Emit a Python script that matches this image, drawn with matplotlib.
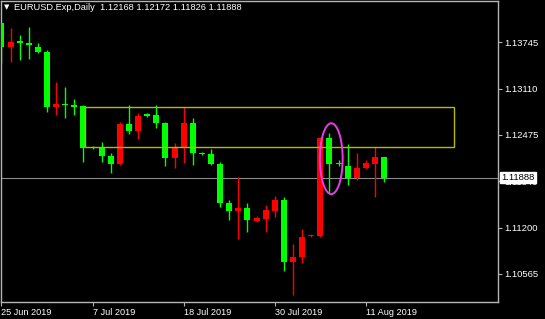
import matplotlib.pyplot as plt
import matplotlib.patches as patches
import numpy as np


plt.rcParams['font.family'] = ['Liberation Sans', 'DejaVu Sans']

# daily candles, EURUSD.Exp (green = bearish, red = bullish as on the terminal)
opens = [1.14006, 1.13676, 1.13759, 1.13731, 1.13676, 1.13608, 1.12853, 1.12894, 1.12881, 1.12867,
         1.12304, 1.12291, 1.12181, 1.12071, 1.12620, 1.12524, 1.12757, 1.12743, 1.12634, 1.12154,
         1.12304, 1.12634, 1.12222, 1.12208, 1.12071, 1.11536, 1.11426, 1.11467, 1.11289, 1.11317,
         1.11426, 1.11577, 1.10727, 1.10795, 1.11083, 1.11083, 1.12428, 1.12085, 1.12044, 1.11879,
         1.12016, 1.12071, 1.12168]
highs = [1.14020, 1.13937, 1.13841, 1.13951, 1.13731, 1.13635, 1.13196, 1.13128, 1.12963, 1.12880,
         1.12320, 1.12373, 1.12222, 1.12647, 1.12881, 1.12771, 1.12770, 1.12881, 1.12647, 1.12359,
         1.12853, 1.12702, 1.12235, 1.12277, 1.12099, 1.11577, 1.11893, 1.11536, 1.11358, 1.11509,
         1.11632, 1.11618, 1.10974, 1.11179, 1.11110, 1.12440, 1.12497, 1.12126, 1.12346, 1.12222,
         1.12126, 1.12304, 1.12172]
lows = [1.13457, 1.13471, 1.13498, 1.13512, 1.13600, 1.12785, 1.12743, 1.12702, 1.12743, 1.12099,
        1.12280, 1.12099, 1.11948, 1.12060, 1.12483, 1.12414, 1.12720, 1.12565, 1.12044, 1.12016,
        1.12085, 1.12057, 1.12195, 1.12060, 1.11481, 1.11303, 1.11042, 1.11138, 1.11275, 1.11138,
        1.11344, 1.10603, 1.10274, 1.10713, 1.11070, 1.11070, 1.11673, 1.12044, 1.11783, 1.11852,
        1.12005, 1.11618, 1.11826]
closes = [1.13676, 1.13745, 1.13731, 1.13704, 1.13608, 1.12853, 1.12894, 1.12881, 1.12853, 1.12291,
          1.12291, 1.12181, 1.12071, 1.12620, 1.12524, 1.12730, 1.12730, 1.12634, 1.12154, 1.12291,
          1.12634, 1.12222, 1.12208, 1.12071, 1.11536, 1.11426, 1.11467, 1.11303, 1.11330, 1.11440,
          1.11577, 1.10727, 1.10795, 1.11070, 1.11097, 1.12428, 1.12071, 1.12071, 1.11879, 1.12016,
          1.12085, 1.12167, 1.11888]

date_tick_bars = [0, 10, 20, 30, 40]
date_tick_labels = ['25 Jun 2019', '7 Jul 2019', '18 Jul 2019', '30 Jul 2019', '11 Aug 2019']
price_ticks = [1.13745, 1.13110, 1.12475, 1.11840, 1.11200, 1.10565]

last_price = 1.11888
zone_top, zone_bottom = 1.12853, 1.12304
zone_start, zone_end = 9.2, 49.7
ellipse_bar, ellipse_price = 36.2, 1.12147

fig = plt.figure(figsize=(5.45, 3.19), dpi=100)
fig.patch.set_facecolor('black')
ax = fig.add_axes([1 / 545, 17 / 319, 497 / 545, 301.5 / 319])
ax.set_facecolor('black')

x = np.arange(len(opens))
o = np.array(opens)
c = np.array(closes)
colors = np.where(c < o, '#00ff00', '#ff0000')

ax.vlines(x, lows, highs, colors=colors, linewidth=1, zorder=2)
ax.bar(x, np.maximum(np.abs(c - o), 0.00012), bottom=np.minimum(o, c), width=0.66,
       color=colors, linewidth=0, zorder=3)

# zone box and highlight
ax.add_patch(patches.Rectangle((zone_start, zone_bottom), zone_end - zone_start, zone_top - zone_bottom,
                               fill=False, edgecolor='#b8b800', linewidth=1, zorder=4))
ax.add_patch(patches.Ellipse((ellipse_bar, ellipse_price), 2.5, 0.00974,
                             fill=False, edgecolor='#e83ce8', linewidth=1.4, zorder=5))

ax.axhline(last_price, color='#8a8a8a', linewidth=0.8, zorder=1)

ax.set_xlim(-0.05, 54.5)
ax.set_ylim(1.10178, 1.14321)

for s in ax.spines.values():
    s.set_color('#b4b4b4')
    s.set_linewidth(1)

ax.set_xticks(date_tick_bars)
ax.set_xticklabels(date_tick_labels)
plt.setp(ax.get_xticklabels(), ha='left')
ax.tick_params(axis='x', colors='#b4b4b4', labelcolor='white', length=3, pad=1, labelsize=6.6)

ax.yaxis.tick_right()
ax.set_yticks(price_ticks)
ax.set_yticklabels([f'{p:.5f}' for p in price_ticks])
ax.tick_params(axis='y', colors='#b4b4b4', labelcolor='white', length=3, pad=1.5, labelsize=6.8)

# current price tag over the axis
ax.text(1.0 + 3 / 497, last_price, f'{last_price:.5f}', transform=ax.get_yaxis_transform(),
        ha='left', va='center', fontsize=6.8, color='black', clip_on=False, zorder=10,
        bbox=dict(boxstyle='square,pad=0.15', facecolor='white', edgecolor='white'))

ax.text(3 / 497, 1 - 7 / 301, '\u25bc', transform=ax.transAxes, ha='left', va='center',
        fontsize=5, color='white', family=['DejaVu Sans'])
ax.text(13 / 497, 1 - 7 / 301, 'EURUSD.Exp,Daily  1.12168 1.12172 1.11826 1.11888',
        transform=ax.transAxes, ha='left', va='center', fontsize=6.7, color='white')

fig.savefig('out.png', dpi=100, facecolor='black')
